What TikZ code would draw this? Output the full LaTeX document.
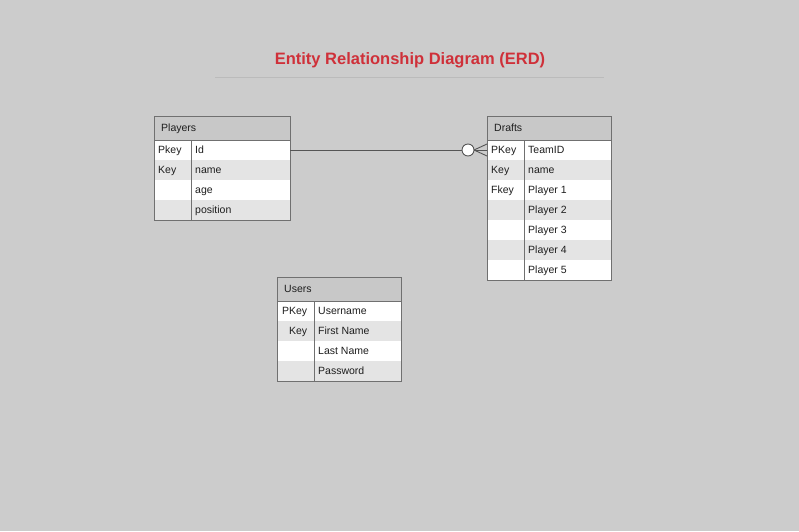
\documentclass[tikz,border=0pt]{standalone}
\usepackage{fontspec}
\setmainfont{Liberation Sans}
\usetikzlibrary{calc}
\definecolor{bg}{HTML}{CCCCCC}
\definecolor{hdrfill}{HTML}{C8C8C8}
\definecolor{rowgray}{HTML}{E4E4E4}
\definecolor{bordercol}{HTML}{707070}
\definecolor{linecol}{HTML}{555555}
\definecolor{titlered}{HTML}{CF3039}
\definecolor{txtcol}{HTML}{1E1E1E}
\definecolor{rulecol}{HTML}{BBBBBB}
\tikzset{
  txt/.style={text=txtcol, font=\fontsize{10.5}{12}\selectfont, inner sep=0pt},
  border/.style={draw=bordercol, line width=0.8pt},
  conn/.style={draw=linecol, line width=0.9pt},
}
% #1 name #2 x #3 y #4 width #5 divider offset #6 title #7 nrows #8 key align #9 rows
\newcommand{\erdtable}[9]{%
  \fill[hdrfill] (#2,#3) rectangle (#2+#4,#3+24);
  \node[anchor=base west, txt] (#1-title) at (#2+7,#3+15) {#6};
  \foreach \k/\f [count=\i] in {#9} {
    \pgfmathsetmacro\ry{#3+24+(\i-1)*20}
    \pgfmathtruncatemacro\odd{mod(\i,2)}
    \ifnum\odd=1 \def\rc{white}\else\def\rc{rowgray}\fi
    \fill[\rc] (#2,\ry) rectangle (#2+#4,\ry+20);
    \coordinate (#1-l\i) at (#2,\ry+10);
    \coordinate (#1-r\i) at (#2+#4,\ry+10);
    \node[anchor=base west, txt, text width=#5pt-11pt, align=#8] (#1-k\i) at (#2+4,\ry+13.5) {\k};
    \node[anchor=base west, txt] (#1-f\i) at (#2+#5+4,\ry+13.5) {\f};
  }
  \draw[border] (#2,#3+24) -- (#2+#4,#3+24);
  \draw[border] (#2+#5,#3+24) -- (#2+#5,#3+24+#7*20);
  \draw[border] (#2,#3) rectangle (#2+#4,#3+24+#7*20);
}
\begin{document}
\begin{tikzpicture}[x=1pt,y=-1pt]
\fill[bg] (0,0) rectangle (799,531);
\useasboundingbox (0,0) rectangle (799,531);

\node[text=titlered, font=\bfseries\fontsize{16.5}{19}\selectfont] (title) at (410,60) {Entity Relationship Diagram (ERD)};
\coordinate (ruleL) at (215,77);
\coordinate (ruleR) at (604,77);
\draw[rulecol, line width=0.8pt] (ruleL) -- (ruleR);

\erdtable{players}{154}{116}{136}{37}{Players}{4}{left}{Pkey/Id, Key/name, /age, /position}
\erdtable{drafts}{487}{116}{124}{37}{Drafts}{7}{left}{PKey/TeamID, Key/name, Fkey/Player 1, /Player 2, /Player 3, /Player 4, /Player 5}
\erdtable{users}{277}{277}{124}{37}{Users}{4}{right}{PKey/Username, Key/First Name, /Last Name, /Password}

% relationship: zero-or-many at Drafts
\coordinate (circ) at ($(drafts-l1)+(-19,0)$);
\coordinate (crow) at ($(drafts-l1)+(-13,0)$);
\draw[conn] (players-r1) -- ($(circ)+(-6,0)$);
\draw[conn, fill=white] (circ) circle[radius=6];
\draw[conn] (crow) -- ($(drafts-l1)+(0,-6)$);
\draw[conn] (crow) -- (drafts-l1);
\draw[conn] (crow) -- ($(drafts-l1)+(0,6)$);
\end{tikzpicture}
\end{document}
